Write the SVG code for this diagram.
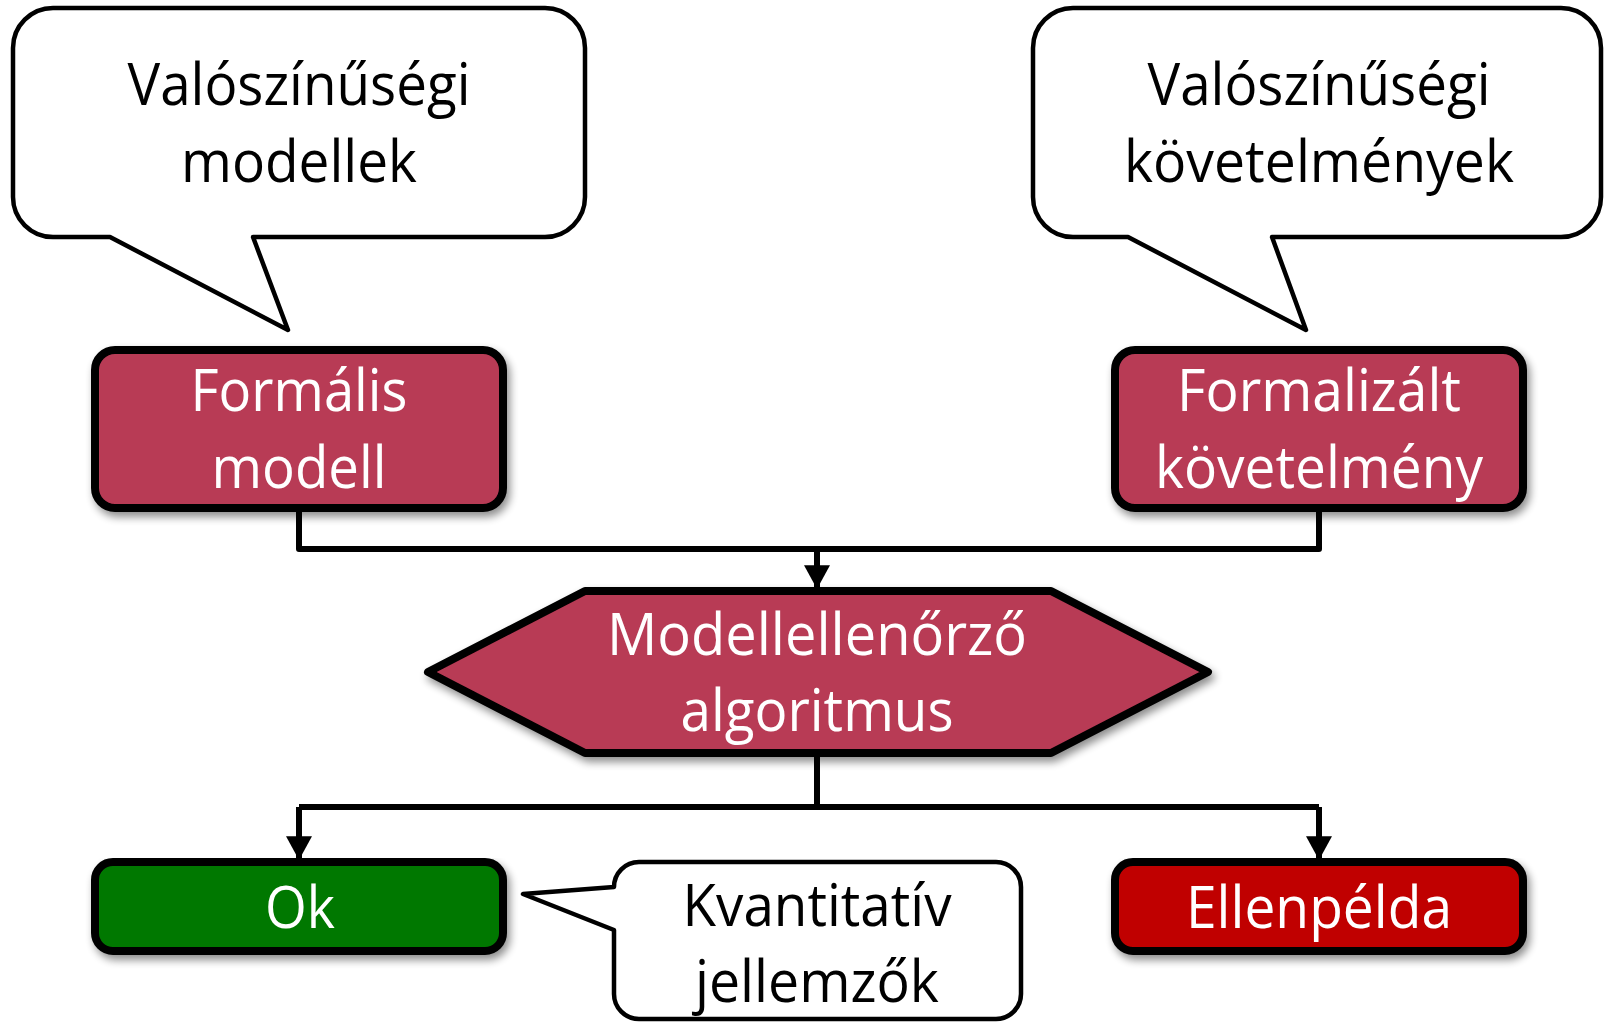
<svg xmlns="http://www.w3.org/2000/svg" width="1604" height="1023" viewBox="0 0 1604 1023">
  <defs>
    <style>
      .callout { fill: #ffffff; stroke: #000000; stroke-width: 4.5; stroke-linejoin: round; }
      .box { stroke: #000000; stroke-width: 8; stroke-linejoin: round; filter: url(#shadow); }
      .wine { fill: #B83A55; }
      .ok { fill: #007800; }
      .bad { fill: #C00000; }
      .wire { fill: none; stroke: #000000; stroke-width: 6; stroke-linejoin: round; }
      text { font-family: "Open Sans", "Noto Sans", "Liberation Sans", sans-serif; font-size: 58px; text-anchor: middle; }
      .dark { fill: #000000; }
      .light { fill: #ffffff; }
    </style>
    <filter id="shadow" x="-10%" y="-10%" width="125%" height="135%">
      <feGaussianBlur in="SourceAlpha" stdDeviation="4"/>
      <feOffset dx="3" dy="5" result="blur"/>
      <feComponentTransfer><feFuncA type="linear" slope="0.45"/></feComponentTransfer>
      <feMerge><feMergeNode/><feMergeNode in="SourceGraphic"/></feMerge>
    </filter>
    <marker id="arrow" markerUnits="userSpaceOnUse" markerWidth="26" markerHeight="26" viewBox="0 0 22 24" refX="22" refY="12" orient="auto">
      <path d="M0,0 L22,12 L0,24 Z" fill="#000000"/>
    </marker>
  </defs>

  <!-- connectors -->
  <g id="connectors">
    <path class="wire" d="M299,508 V549 H1319 V508"/>
    <path class="wire" d="M817,549 V589" marker-end="url(#arrow)"/>
    <path class="wire" d="M817,753 V807"/>
    <path class="wire" d="M299,807 H1319"/>
    <path class="wire" d="M299,807 V860" marker-end="url(#arrow)"/>
    <path class="wire" d="M1319,807 V860" marker-end="url(#arrow)"/>
  </g>

  <!-- speech bubble: probabilistic models -->
  <g id="note-models">
    <path class="callout" d="M53,8 H545 A40,40 0 0 1 585,48 V197 A40,40 0 0 1 545,237 H253 L288,330 L110,237 H53 A40,40 0 0 1 13,197 V48 A40,40 0 0 1 53,8 Z"/>
    <text class="dark" x="299" y="105" textLength="343" lengthAdjust="spacingAndGlyphs">Valószínűségi</text>
    <text class="dark" x="299" y="182" textLength="236" lengthAdjust="spacingAndGlyphs">modellek</text>
  </g>

  <!-- speech bubble: probabilistic requirements -->
  <g id="note-requirements">
    <path class="callout" d="M1073,8 H1561 A40,40 0 0 1 1601,48 V197 A40,40 0 0 1 1561,237 H1272 L1306,330 L1128,237 H1073 A40,40 0 0 1 1033,197 V48 A40,40 0 0 1 1073,8 Z"/>
    <text class="dark" x="1319" y="105" textLength="343" lengthAdjust="spacingAndGlyphs">Valószínűségi</text>
    <text class="dark" x="1319" y="182" textLength="390" lengthAdjust="spacingAndGlyphs">követelmények</text>
  </g>

  <!-- formal model -->
  <g id="formal-model">
    <rect class="box wine" x="95" y="350" width="408" height="158" rx="20"/>
    <text class="light" x="299" y="411" textLength="217" lengthAdjust="spacingAndGlyphs">Formális</text>
    <text class="light" x="299" y="488" textLength="175" lengthAdjust="spacingAndGlyphs">modell</text>
  </g>

  <!-- formalised requirement -->
  <g id="formal-requirement">
    <rect class="box wine" x="1115" y="350" width="408" height="158" rx="20"/>
    <text class="light" x="1319" y="411" textLength="284" lengthAdjust="spacingAndGlyphs">Formalizált</text>
    <text class="light" x="1319" y="488" textLength="328" lengthAdjust="spacingAndGlyphs">követelmény</text>
  </g>

  <!-- model checking algorithm -->
  <g id="model-checker">
    <path class="box wine" d="M428,672 L585,591 H1051 L1208,672 L1051,753 H585 Z"/>
    <text class="light" x="817" y="655" textLength="420" lengthAdjust="spacingAndGlyphs">Modellellenőrző</text>
    <text class="light" x="817" y="731" textLength="273" lengthAdjust="spacingAndGlyphs">algoritmus</text>
  </g>

  <!-- result: ok -->
  <g id="result-ok">
    <rect class="box ok" x="95" y="862" width="408" height="89" rx="18"/>
    <text class="light" x="300" y="928" textLength="70" lengthAdjust="spacingAndGlyphs">Ok</text>
  </g>

  <!-- speech bubble: quantitative measures -->
  <g id="note-quantitative">
    <path class="callout" d="M639,862 H996 A25,25 0 0 1 1021,887 V994 A25,25 0 0 1 996,1019 H639 A25,25 0 0 1 614,994 V930 L523,894 L614,887 A25,25 0 0 1 639,862 Z"/>
    <text class="dark" x="817" y="926" textLength="269" lengthAdjust="spacingAndGlyphs">Kvantitatív</text>
    <text class="dark" x="817" y="1002" textLength="244" lengthAdjust="spacingAndGlyphs">jellemzők</text>
  </g>

  <!-- result: counterexample -->
  <g id="result-counterexample">
    <rect class="box bad" x="1115" y="862" width="408" height="89" rx="18"/>
    <text class="light" x="1319" y="928" textLength="266" lengthAdjust="spacingAndGlyphs">Ellenpélda</text>
  </g>
</svg>
